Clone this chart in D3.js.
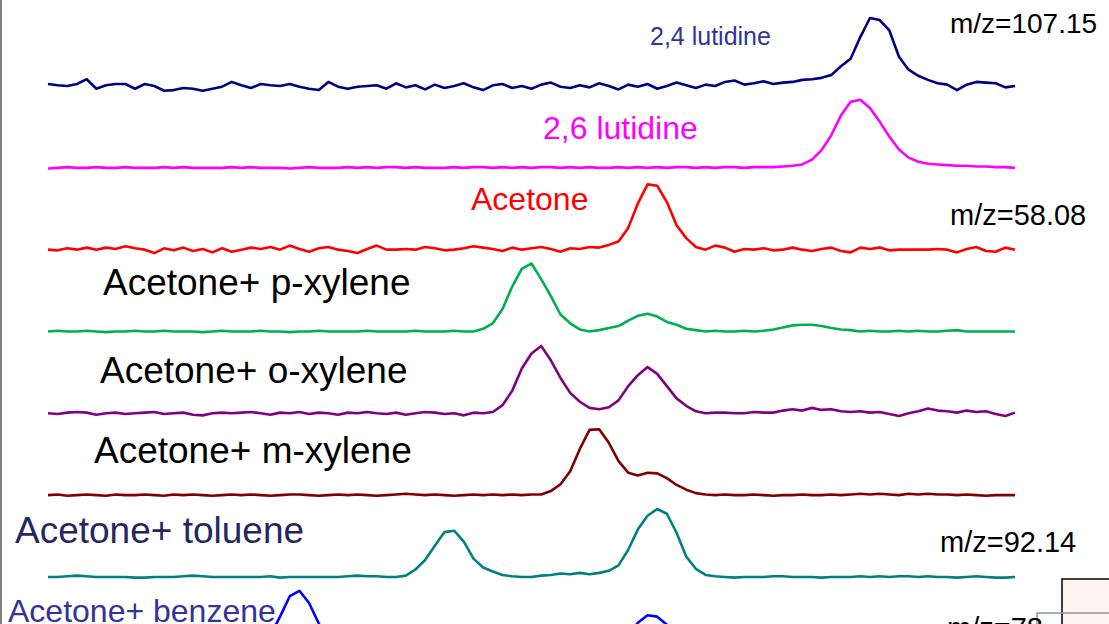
<!DOCTYPE html>
<html>
<head>
<meta charset="utf-8">
<script src="https://cdn.jsdelivr.net/npm/d3@7"></script>
<style>
  html, body { margin: 0; padding: 0; background: #fff; overflow: hidden; }
  svg { display: block; font-family: "Liberation Sans", Arial, sans-serif; }
</style>
</head>
<body>
<div id="chart"></div>
<script>
// retention time index (arbitrary units), one value per sample
var time = d3.range(0, 101);

// trace names, top to bottom
var traces = ["2,4 lutidine", "2,6 lutidine", "Acetone", "Acetone+ p-xylene",
  "Acetone+ o-xylene", "Acetone+ m-xylene", "Acetone+ toluene", "Acetone+ benzene"];

// normalised intensity (% of tallest peak)
var lut24 = [3,1,0,3,10,-4,1,3,3,-4, 3,0,-7,-6,-3,-4,-7,-4,-1,6,
  1,-3,3,1,0,3,-1,-4,-6,6, -1,-4,-1,0,1,-4,4,-2,1,-5,
  2,-3,0,4,-2,-6,1,3,-3,0, -4,2,5,-1,-3,1,-2,4,0,-5,
  2,-1,3,-4,0,5,1,-3,2,0, 6,8,2,4,7,3,5,6,9,10,
  12,16,29,40,72,100,97,82,43,24, 15,9,4,2,-6,2,6,5,4,-2,0];

var lut26 = [-1,0,1,0,0,1,0,0,1,0, 0,0,1,0,1,0,0,0,0,1,
  0,1,0,0,0,-1,0,1,0,0, 0,1,0,1,0,1,1,0,1,0,
  0,0,1,0,1,1,0,1,0,1, 0,1,1,0,1,0,1,0,0,1,
  0,1,0,1,0,1,1,0,1,0, 1,1,0,1,1,1,2,3,5,12,
  26,48,77,97,100,88,68,46,27,15, 9,6,5,4,3,3,2,2,1,1,0];

var acetone = [0,-1,2,0,3,0,3,1,5,2, 0,-5,2,-1,3,-2,1,-4,2,-3,
  0,3,1,4,0,6,1,-3,2,4, 0,-2,-5,1,6,0,0,1,0,4,
  2,-1,0,2,5,3,1,-2,3,0, 2,4,1,-3,2,1,4,3,7,12,
  32,68,96,94,70,36,17,4,0,6, 3,-3,1,0,2,-1,0,3,0,-2,
  1,3,-2,-4,3,1,3,-1,0,0, 0,0,1,0,-4,1,4,-2,-3,3,0];

var pXylene = [0,1,0,0,1,0,-1,0,0,1, 0,0,1,0,0,0,-1,0,1,0,
  0,0,1,0,0,-1,0,0,1,0, 0,0,0,1,0,0,0,0,1,0,
  0,0,1,0,0,4,12,33,66,92, 100,77,52,25,12,3,0,2,5,8,
  16,23,26,22,14,10,4,2,0,1, 0,0,1,0,1,3,6,9,10,10,
  8,5,3,2,0,1,0,0,1,0, 1,0,0,1,2,0,0,0,0,0,0];

var oXylene = [0,-1,1,2,1,-2,0,1,-1,0, 1,2,-1,0,1,-2,-3,0,1,0,
  1,2,0,-2,1,0,2,-1,1,0, -2,1,0,2,0,-1,1,-2,0,2,
  1,-1,0,-3,1,0,2,12,33,66, 88,99,78,52,30,17,8,6,9,19,
  40,56,68,58,40,22,11,3,0,1, 1,0,0,2,1,1,4,6,4,8,
  5,6,3,2,3,1,2,-1,-4,0, 3,7,4,3,1,4,2,3,-1,-4,1];

var mXylene = [0,1,-1,0,1,0,-1,1,0,0, 1,0,-1,1,0,1,0,-1,0,1,
  0,1,0,-1,0,1,1,0,-1,0, 1,0,1,0,-1,0,1,2,1,0,
  1,0,-1,0,1,0,1,0,1,0, 1,1,6,16,35,68,96,97,77,50,
  33,29,33,32,25,15,8,3,1,0, 1,0,0,1,0,-1,0,0,1,0,
  0,1,0,1,2,1,2,1,0,2, 1,2,1,1,0,1,0,-1,0,0,0];

var toluene = [0,0,1,2,1,0,0,0,0,-1, -1,0,0,0,1,2,1,0,0,0,
  0,0,0,1,-1,0,0,0,0,0, 0,1,2,1,1,0,0,2,11,25,
  46,66,68,52,27,14,8,3,1,0, 0,2,3,5,4,6,4,6,9,17,
  40,70,90,100,93,65,30,12,3,1, 0,-1,0,0,0,1,1,0,0,0,
  -1,0,0,0,1,0,1,0,1,1, 0,1,0,0,-1,0,1,0,-1,-1,0];

var benzene = [0,0,0,0,0,0,0,0,0,0, 0,0,0,0,0,0,0,0,0,0,
  0,6,15,35,62,92,100,82,52,25, 10,4,0,0,0,0,0,0,0,0,
  0,0,0,0,0,0,0,0,0,0, 0,0,0,0,0,0,0,0,8,18,
  35,53,64,62,50,32,15,6,0,0, 0,0,0,0,0,0,0,0,0,0,
  0,0,0,0,0,0,0,0,0,0, 0,0,0,0,0,0,0,0,0,0,0];

var seriesValues = [lut24, lut26, acetone, pXylene, oXylene, mXylene, toluene, benzene];

// mass labels on the right
var massLabels = ["m/z=107.15", "m/z=58.08", "m/z=92.14", "m/z=78"];

var width = 1109, height = 624;

var lineColors = ["#000080", "#ff00ff", "#ff0000", "#00b050", "#800080", "#800000", "#008080", "#0000ff"];

// label placement: x, offset from the trace baseline, font size, colour
var labelStyle = [
  {x: 650, dy: -41, size: 25, color: "#333399"},
  {x: 543, dy: -29, size: 32, color: "#ff00ff"},
  {x: 471, dy: -40, size: 32, color: "#ff0000"},
  {x: 103, dy: -36, size: 37, color: "#000000"},
  {x: 100, dy: -30, size: 37, color: "#000000"},
  {x: 94,  dy: -32, size: 37, color: "#000000"},
  {x: 15,  dy: -34, size: 37, color: "#262664"},
  {x: 8,   dy: -37, size: 32, color: "#333399"}
];
var massStyle = [
  {x: 950, y: 33, size: 28}, {x: 950, y: 225, size: 29},
  {x: 940, y: 552, size: 29}, {x: 947, y: 638, size: 29}
];

var svg = d3.select("#chart").append("svg")
  .attr("width", width)
  .attr("height", height);

//scales
var x = d3.scaleLinear()
  .domain(d3.extent(time))
  .range([48, 1015]);

var row = d3.scalePoint()
  .domain(traces)
  .range([86, 658.8]);

var h = d3.scaleLinear()
  .domain([0, 100])
  .range([0, 68]);

// boxes in the bottom right corner
svg.append("rect")
  .attr("x", 1062).attr("y", 579)
  .attr("width", 80).attr("height", 80)
  .attr("fill", "#fff3f3")
  .attr("stroke", "#000")
  .attr("stroke-width", 1.5);

svg.append("rect")
  .attr("x", 1037).attr("y", 613)
  .attr("width", 100).attr("height", 40)
  .attr("fill", "none")
  .attr("stroke", "#8a9c9c")
  .attr("stroke-width", 1.5);

// left frame line
svg.append("line")
  .attr("x1", 1).attr("x2", 1)
  .attr("y1", 0).attr("y2", height)
  .attr("stroke", "#7f7f7f")
  .attr("stroke-width", 2);

//traces
var line = function(name){
  return d3.line()
    .x(function(d, i){ return x(time[i]); })
    .y(function(d){ return row(name) - h(d); });
};

svg.selectAll(".trace")
  .data(traces)
  .enter().append("path")
  .attr("class", "trace")
  .attr("fill", "none")
  .attr("stroke", function(d, i){ return lineColors[i]; })
  .attr("stroke-width", 2.6)
  .attr("stroke-linejoin", "round")
  .attr("d", function(d, i){ return line(d)(seriesValues[i]); });

//trace labels
svg.selectAll(".label")
  .data(traces)
  .enter().append("text")
  .attr("class", "label")
  .attr("x", function(d, i){ return labelStyle[i].x; })
  .attr("y", function(d, i){ return row(d) + labelStyle[i].dy; })
  .style("font-size", function(d, i){ return labelStyle[i].size + "px"; })
  .attr("fill", function(d, i){ return labelStyle[i].color; })
  .text(function(d){ return d; });

//mass labels
svg.selectAll(".mass")
  .data(massLabels)
  .enter().append("text")
  .attr("class", "mass")
  .attr("x", function(d, i){ return massStyle[i].x; })
  .attr("y", function(d, i){ return massStyle[i].y; })
  .style("font-size", function(d, i){ return massStyle[i].size + "px"; })
  .attr("fill", "#000")
  .text(function(d){ return d; });
</script>
</body>
</html>
